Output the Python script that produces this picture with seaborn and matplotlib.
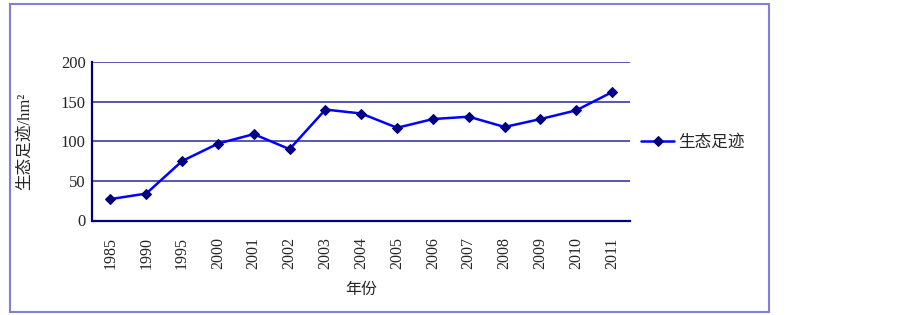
import pandas as pd
import numpy as np
import matplotlib
matplotlib.use('Agg')
import matplotlib.pyplot as plt
import seaborn as sns
from matplotlib.patches import Rectangle

years = ['1985', '1990', '1995', '2000', '2001', '2002', '2003', '2004',
         '2005', '2006', '2007', '2008', '2009', '2010', '2011']
footprint = [27, 34, 75, 97, 109, 90, 140, 135, 117, 128, 131, 118, 128, 139, 162]
y_ticks = [0, 50, 100, 150, 200]

sns.set_style('white')
# serif for digits, CJK fallback for Chinese characters
plt.rcParams['font.family'] = ['Liberation Serif', 'Noto Sans CJK SC']
plt.rcParams['axes.unicode_minus'] = False

df = pd.DataFrame({'年份': years, '生态足迹': footprint})

navy = '#000080'
grid_c = '#3a3aa8'

fig = plt.figure(figsize=(9.03, 3.15), dpi=100)
ax = fig.add_axes([92.5 / 903, 1 - 220.5 / 315, (630 - 92.5) / 903, (220.5 - 62) / 315])

sns.lineplot(ax=ax, data=df, x='年份', y='生态足迹', color='#0000ff', linewidth=1.8,
             marker='D', markersize=5.5, markerfacecolor=navy, markeredgecolor=navy,
             label='生态足迹')

ax.set_xlim(-0.5, len(years) - 0.5)
ax.set_ylim(0, 200)
ax.set_yticks(y_ticks)
ax.set_yticklabels([str(v) for v in y_ticks], fontsize=12)

# ticks sit between categories, labels at centres
ax.set_xticks(np.arange(len(years) + 1) - 0.5)
ax.set_xticklabels([''] * (len(years) + 1))
ax.set_xticks(np.arange(len(years)), minor=True)
ax.set_xticklabels(years, minor=True, rotation=90, fontsize=11.5)
ax.tick_params(axis='x', which='major', direction='in', length=7, width=1.5, color=navy)
ax.tick_params(axis='x', which='minor', length=0, pad=12)
ax.tick_params(axis='y', direction='in', length=6, width=1.5, color=navy, pad=5)

for v in y_ticks[1:]:
    ax.axhline(v, color=grid_c, linewidth=1.2, zorder=0)

for side in ['top', 'right']:
    ax.spines[side].set_visible(False)
for side in ['left', 'bottom']:
    ax.spines[side].set_color(navy)
    ax.spines[side].set_linewidth(1.6)

ax.set_xlabel('年份', fontsize=11.5, labelpad=9)
ax.set_ylabel('生态足迹/hm²', fontsize=12, labelpad=20)

ax.legend(loc='center left', bbox_to_anchor=(626 / 903, 1 - 143 / 315),
          bbox_transform=fig.transFigure, frameon=False, fontsize=12,
          handlelength=2.0, handletextpad=0.2, markerscale=0.85)

fig.patches.append(Rectangle((10 / 903, 1 - 312 / 315), 759 / 903, 308 / 315,
                             transform=fig.transFigure, fill=False,
                             edgecolor='#8080d8', linewidth=1.5))

plt.savefig('out.png', dpi=100)
plt.close()
